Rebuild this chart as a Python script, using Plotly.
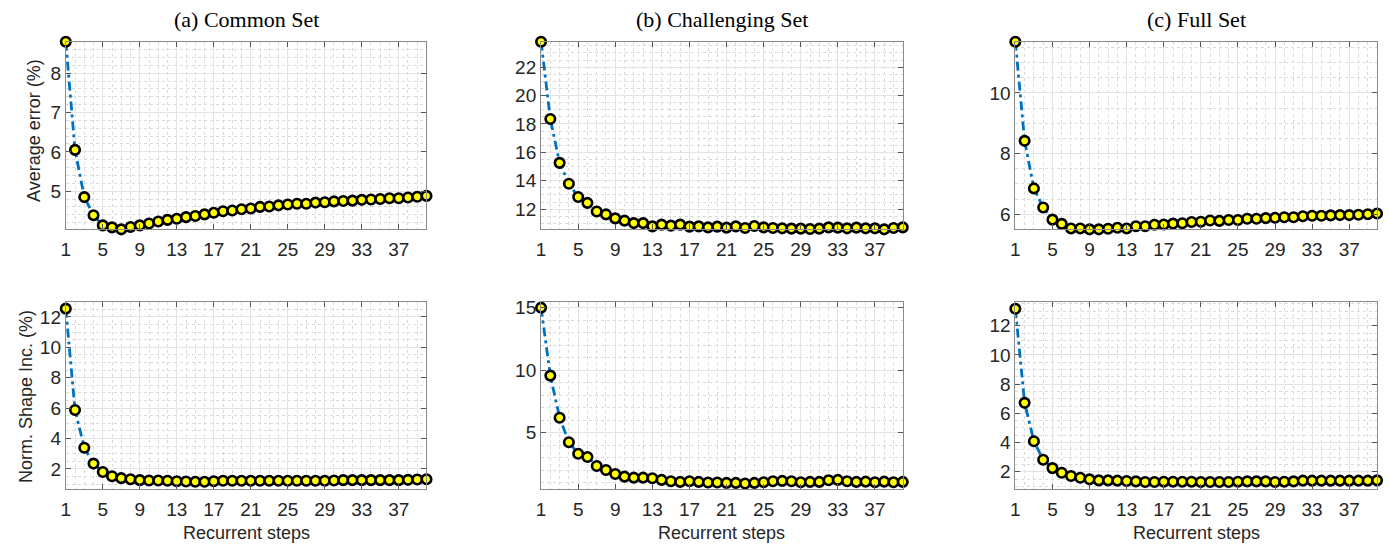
import plotly.graph_objects as go
from plotly.subplots import make_subplots

steps = list(range(1, 41))

err_common = [8.80, 6.05, 4.85, 4.39, 4.13, 4.08, 4.03, 4.09, 4.13, 4.18,
              4.23, 4.27, 4.30, 4.34, 4.37, 4.41, 4.45, 4.49, 4.51, 4.54,
              4.56, 4.60, 4.61, 4.64, 4.66, 4.68, 4.68, 4.71, 4.72, 4.74,
              4.75, 4.76, 4.78, 4.79, 4.80, 4.82, 4.82, 4.84, 4.86, 4.88]
err_challenging = [23.79, 18.35, 15.26, 13.79, 12.86, 12.44, 11.84, 11.63, 11.35, 11.19,
                   11.02, 11.02, 10.79, 10.91, 10.84, 10.91, 10.77, 10.79, 10.72, 10.77,
                   10.70, 10.79, 10.67, 10.81, 10.72, 10.67, 10.65, 10.63, 10.63, 10.60,
                   10.63, 10.72, 10.70, 10.65, 10.70, 10.65, 10.65, 10.58, 10.67, 10.72]
err_full = [11.69, 8.42, 6.85, 6.22, 5.82, 5.68, 5.53, 5.53, 5.50, 5.50,
            5.52, 5.55, 5.53, 5.60, 5.60, 5.65, 5.66, 5.69, 5.70, 5.74,
            5.75, 5.79, 5.78, 5.81, 5.81, 5.85, 5.85, 5.87, 5.88, 5.90,
            5.90, 5.93, 5.95, 5.95, 5.96, 5.97, 5.97, 5.98, 6.00, 6.02]
nsi_common = [12.55, 5.88, 3.39, 2.35, 1.80, 1.52, 1.39, 1.32, 1.26, 1.24,
              1.24, 1.22, 1.19, 1.17, 1.15, 1.15, 1.19, 1.22, 1.22, 1.22,
              1.22, 1.22, 1.22, 1.22, 1.22, 1.22, 1.22, 1.22, 1.22, 1.24,
              1.26, 1.26, 1.26, 1.26, 1.26, 1.26, 1.26, 1.28, 1.30, 1.32]
nsi_challenging = [15.0, 9.56, 6.19, 4.23, 3.30, 3.04, 2.32, 2.00, 1.68, 1.47,
                   1.39, 1.39, 1.34, 1.21, 1.10, 1.05, 1.10, 1.05, 1.00, 1.00,
                   0.97, 0.97, 0.92, 0.97, 1.02, 1.10, 1.13, 1.10, 1.02, 1.05,
                   1.05, 1.18, 1.21, 1.10, 1.05, 1.07, 1.02, 1.07, 1.02, 1.05]
nsi_full = [13.16, 6.72, 4.09, 2.82, 2.25, 1.93, 1.71, 1.59, 1.48, 1.41,
            1.41, 1.39, 1.37, 1.34, 1.30, 1.30, 1.32, 1.32, 1.32, 1.32,
            1.30, 1.30, 1.30, 1.30, 1.32, 1.34, 1.34, 1.34, 1.30, 1.32,
            1.34, 1.39, 1.39, 1.39, 1.39, 1.39, 1.39, 1.39, 1.39, 1.41]

titles = ["(a) Common Set", "(b) Challenging Set", "(c) Full Set"]
row_labels = ["Average error (%)", "Norm. Shape Inc. (%)"]
xlabel = "Recurrent steps"

series = [[err_common, err_challenging, err_full],
          [nsi_common, nsi_challenging, nsi_full]]

# y-axis settings per panel: (range, dtick, minor dtick)
yset = [[([4.03, 8.80], 1, 0.2), ([10.58, 23.79], 2, 0.5), ([5.50, 11.69], 2, 0.5)],
        [([0.65, 13.0], 2, 0.5), ([0.45, 15.47], 5, 1), ([0.79, 13.64], 2, 0.5)]]

W, H = 1389, 546
xdom_px = [(61, 423), (538, 901), (1014, 1377)]
ydom_px = [(38, 227), (300, 489)]

fig = make_subplots(rows=2, cols=3)

TXT = "#262626"
for r in range(2):
    for c in range(3):
        fig.add_trace(go.Scatter(
            x=steps, y=series[r][c], mode="lines+markers",
            line=dict(color="#0072BD", width=2.8, dash="9px,4px,3px,4px"),
            marker=dict(size=9.5, color="#FFFF00", line=dict(color="black", width=2.6)),
            showlegend=False, cliponaxis=False), row=r + 1, col=c + 1)
        rng, dt, mdt = yset[r][c]
        x0, x1 = xdom_px[c]
        y0, y1 = ydom_px[r]
        fig.update_xaxes(
            domain=[x0 / W, x1 / W], range=[1, 40], tick0=1, dtick=4,
            ticks="inside", ticklen=5, tickcolor="#555", mirror="ticks",
            showline=True, linecolor="#8a8a8a", linewidth=1,
            showgrid=True, gridcolor="#e3e3e3", gridwidth=1, zeroline=False,
            ticklabelstandoff=3,
            tickfont=dict(family="Liberation Sans, Arial", size=19, color=TXT),
            minor=dict(dtick=1, tick0=1, showgrid=True, gridcolor="#dadada",
                       griddash="dot", gridwidth=1, ticks=""),
            row=r + 1, col=c + 1)
        fig.update_yaxes(
            domain=[1 - y1 / H, 1 - y0 / H], range=rng, tick0=0, dtick=dt,
            ticks="inside", ticklen=5, tickcolor="#555", mirror="ticks",
            showline=True, linecolor="#8a8a8a", linewidth=1,
            showgrid=True, gridcolor="#e3e3e3", gridwidth=1, zeroline=False,
            tickfont=dict(family="Liberation Sans, Arial", size=19, color=TXT),
            minor=dict(dtick=mdt, tick0=0, showgrid=True, gridcolor="#dadada",
                       griddash="dot", gridwidth=1, ticks=""),
            row=r + 1, col=c + 1)

ann = []
for c in range(3):
    x0, x1 = xdom_px[c]
    xc = (x0 + x1) / 2 / W
    ann.append(dict(text=titles[c], x=xc, y=1 - 16 / H, xref="paper", yref="paper",
                    showarrow=False, xanchor="center", yanchor="middle",
                    font=dict(family="Liberation Serif, Times New Roman", size=22, color="black")))
    ann.append(dict(text=xlabel, x=xc, y=1 - 533 / H, xref="paper", yref="paper",
                    showarrow=False, xanchor="center", yanchor="middle",
                    font=dict(family="Liberation Sans, Arial", size=18, color=TXT)))
ann.append(dict(text=row_labels[0], x=29 / W, y=1 - 127 / H, xref="paper", yref="paper",
                showarrow=False, textangle=-90, xanchor="center", yanchor="middle",
                font=dict(family="Liberation Sans, Arial", size=18, color=TXT)))
ann.append(dict(text=row_labels[1], x=21 / W, y=1 - 395 / H, xref="paper", yref="paper",
                showarrow=False, textangle=-90, xanchor="center", yanchor="middle",
                font=dict(family="Liberation Sans, Arial", size=18, color=TXT)))

fig.update_layout(width=W, height=H, margin=dict(l=0, r=0, t=0, b=0),
                  plot_bgcolor="white", paper_bgcolor="white", annotations=ann)

fig.write_html("out.html")
